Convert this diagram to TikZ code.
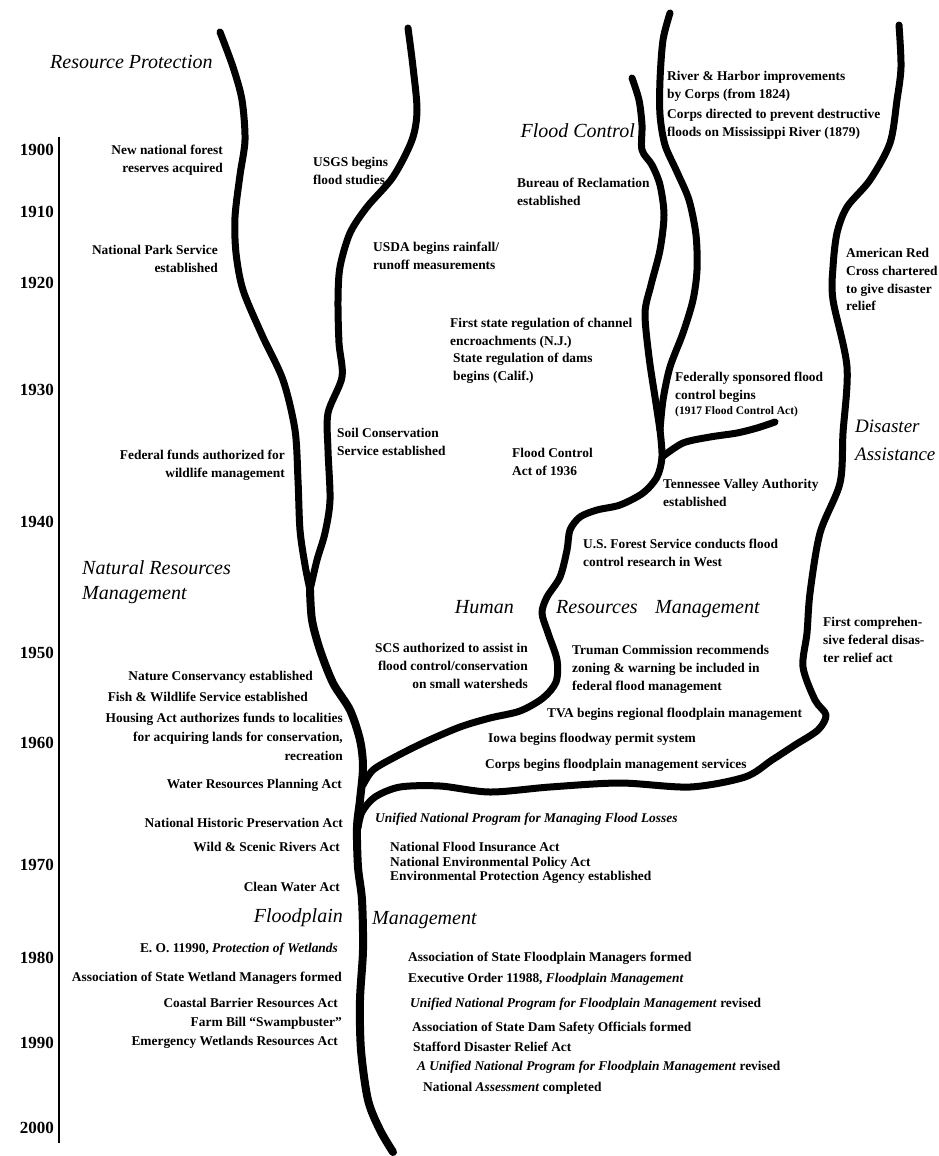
\documentclass[tikz,border=0pt]{standalone}
\usepackage{fontspec}
\setmainfont{Liberation Serif}
\begin{document}
\begin{tikzpicture}[x=1pt,y=-1pt,
  river/.style={line width=7pt,line cap=round,line join=round},
  trunk/.style={line width=8pt,line cap=round,line join=round},
  txt/.style={inner sep=0pt,font=\fontsize{13.4}{17.8}\selectfont\bfseries},
  lt/.style={txt,anchor=north west,align=left},
  rt/.style={txt,anchor=north east,align=right},
  head/.style={inner sep=0pt,font=\fontsize{20}{25.5}\selectfont\itshape},
  year/.style={inner sep=0pt,anchor=east,font=\fontsize{17}{17}\selectfont\bfseries},
  axis/.style={line width=1.4pt}]
\useasboundingbox (0,0) rectangle (939,1156);

% ---------- rivers ----------
% Resource Protection stream
\draw[river] plot[smooth] coordinates {(220,32) (233,67) (242,100) (245,140) (240,175) (235,217) (236,253) (243,290) (262,335) (283,380) (295,430) (298,480) (300,530) (305,565) (310,590)};
% USGS stream
\draw[river] plot[smooth] coordinates {(408,28) (413,67) (417,110) (412,140) (393,177) (367,207) (350,233) (340,267) (338,300) (339,343) (342,377) (328,413) (328,450) (330,500) (325,533) (317,560) (310,590)};
% main stream
\draw[trunk] plot[smooth] coordinates {(310,590) (312,620) (320,650) (333,683) (350,710) (360,740) (363,767) (360,800) (357,827) (358,867) (362,900) (363,950) (360,1000) (361,1050) (368,1100) (380,1130) (393,1152)};
% Flood Control stream
\draw[river] plot[smooth] coordinates {(632,78) (639,100) (642,125) (642,150) (652,165) (660,185) (664,215) (660,250) (651,285) (645,313) (649,357) (655,397) (660,430)};
% River & Harbor stream
\draw[river] plot[smooth] coordinates {(670,13) (663,40) (660,80) (660,115) (665,145) (677,172) (689,200) (696,235) (697,270) (693,300) (683,333) (670,367) (663,400) (660,430)};
% Human Resources branch
\draw[river] plot[smooth] coordinates {(660,430) (662,457) (657,477) (643,493) (620,505) (597,510) (580,517) (570,530) (567,550) (560,577) (547,597) (542,613) (548,633) (557,660) (556,682) (543,698) (520,711) (490,718) (460,727) (425,742) (395,757) (373,770) (363,785)};
% 1917 branch
\draw[river] plot[smooth] coordinates {(662,457) (683,443) (710,437) (737,433) (757,428) (775,422)};
% Disaster Assistance stream
\draw[river] plot[smooth] coordinates {(899,25) (901,67) (897,100) (890,143) (870,180) (847,207) (837,233) (833,267) (833,300) (847,367) (843,433) (840,483) (820,533) (810,593) (807,633) (803,667) (815,700) (826,715) (818,730) (795,745) (772,760) (745,777) (690,787) (620,783) (550,787) (490,792) (440,786) (400,787) (375,797) (362,812) (358,828)};

% ---------- time axis ----------
\coordinate (axtop) at (59,137);
\coordinate (axbot) at (59,1143);
\draw[axis] (axtop) -- (axbot);
\node[year] (y1900) at (54,150) {1900};
\node[year] (y1910) at (54,212) {1910};
\node[year] (y1920) at (54,283) {1920};
\node[year] (y1930) at (54,390) {1930};
\node[year] (y1940) at (54,522) {1940};
\node[year] (y1950) at (54,653) {1950};
\node[year] (y1960) at (54,743) {1960};
\node[year] (y1970) at (54,865) {1970};
\node[year] (y1980) at (54,958) {1980};
\node[year] (y1990) at (54,1043) {1990};
\node[year] (y2000) at (54,1128) {2000};

% ---------- headings ----------
\node[head,anchor=north west] (hrp) at (50,55) {Resource Protection};
\node[head,anchor=north east] (hfc) at (635,123) {Flood Control};
\node[head,anchor=north west,align=left,font=\fontsize{19}{28}\selectfont\itshape] (hda) at (855,420) {Disaster\\Assistance};
\node[head,anchor=north west,align=left] (hnrm) at (82,560) {Natural Resources\\Management};
\node[head,anchor=north east] (hhu) at (514,600) {Human};
\node[head,anchor=north west] (hres) at (556,600) {Resources};
\node[head,anchor=north west] (hman) at (655,600) {Management};
\node[head,anchor=north east] (hfp) at (343,908) {Floodplain};
\node[head,anchor=north west] (hfm) at (372,911) {Management};

% ---------- events ----------
\node[rt] (forest) at (223,145) {New national forest\\reserves acquired};
\node[lt] (usgs) at (313,157) {USGS begins\\flood studies};
\node[lt] (bor) at (517,178) {Bureau of Reclamation\\established};
\node[lt] (rh) at (667,71) {River \& Harbor improvements\\by Corps (from 1824)};
\node[lt] (miss) at (667,109) {Corps directed to prevent destructive\\floods on Mississippi River (1879)};
\node[lt] (usda) at (373,242) {USDA begins rainfall/\\runoff measurements};
\node[lt] (redcross) at (846,248) {American Red\\Cross chartered\\to give disaster\\relief};
\node[rt] (nps) at (218,245) {National Park Service\\established};
\node[lt] (nj) at (450,318) {First state regulation of channel\\encroachments (N.J.)};
\node[lt] (calif) at (453,353) {State regulation of dams\\begins (Calif.)};
\node[lt] (fed) at (675,372) {Federally sponsored flood\\control begins\\[-3pt]{\fontsize{11.5}{14}\selectfont (1917 Flood Control Act)}};
\node[lt] (soil) at (337,428) {Soil Conservation\\Service established};
\node[rt] (wild) at (285,450) {Federal funds authorized for\\wildlife management};
\node[lt] (fca) at (512,448) {Flood Control\\Act of 1936};
\node[lt] (tva) at (663,479) {Tennessee Valley Authority\\established};
\node[lt] (usfs) at (583,539) {U.S. Forest Service conducts flood\\control research in West};
\node[lt] (relief) at (823,617) {First comprehen-\\sive federal disas-\\ter relief act};
\node[rt] (scs) at (528,643) {SCS authorized to assist in\\flood control/conservation\\on small watersheds};
\node[lt] (truman) at (572,645) {Truman Commission recommends\\zoning \& warning be included in\\federal flood management};
\node[rt] (nature) at (313,671) {Nature Conservancy established};
\node[rt] (fish) at (308,692) {Fish \& Wildlife Service established};
\node[lt] (tvafp) at (547,708) {TVA begins regional floodplain management};
\node[rt,font=\fontsize{13.4}{19}\selectfont\bfseries] (housing) at (343,713) {Housing Act authorizes funds to localities\\for acquiring lands for conservation,\\recreation};
\node[lt] (iowa) at (488,733) {Iowa begins floodway permit system};
\node[lt] (corps) at (485,759) {Corps begins floodplain management services};
\node[rt] (wrpa) at (342,779) {Water Resources Planning Act};
\node[lt] (unp) at (375,813) {\itshape Unified National Program for Managing Flood Losses};
\node[rt] (nhpa) at (343,818) {National Historic Preservation Act};
\node[rt] (wsra) at (340,842) {Wild \& Scenic Rivers Act};
\node[lt,font=\fontsize{13.4}{14.6}\selectfont\bfseries] (nfia) at (390,842) {National Flood Insurance Act\\National Environmental Policy Act\\Environmental Protection Agency established};
\node[rt] (cwa) at (340,882) {Clean Water Act};
\node[rt] (eo) at (338,943) {E. O. 11990, \textit{Protection of Wetlands}};
\node[rt] (aswm) at (342,972) {Association of State Wetland Managers formed};
\node[rt] (cbra) at (338,998) {Coastal Barrier Resources Act};
\node[rt] (farm) at (342,1017) {Farm Bill ``Swampbuster''};
\node[rt] (ewra) at (338,1036) {Emergency Wetlands Resources Act};
\node[lt] (asfpm) at (408,952) {Association of State Floodplain Managers formed};
\node[lt] (eo2) at (408,973) {Executive Order 11988, \textit{Floodplain Management}};
\node[lt] (unp2) at (410,998) {\textit{Unified National Program for Floodplain Management} revised};
\node[lt] (asdso) at (412,1022) {Association of State Dam Safety Officials formed};
\node[lt] (stafford) at (413,1042) {Stafford Disaster Relief Act};
\node[lt] (unp3) at (417,1061) {\textit{A Unified National Program for Floodplain Management} revised};
\node[lt] (na) at (423,1082) {National \textit{Assessment} completed};
\end{tikzpicture}
\end{document}
